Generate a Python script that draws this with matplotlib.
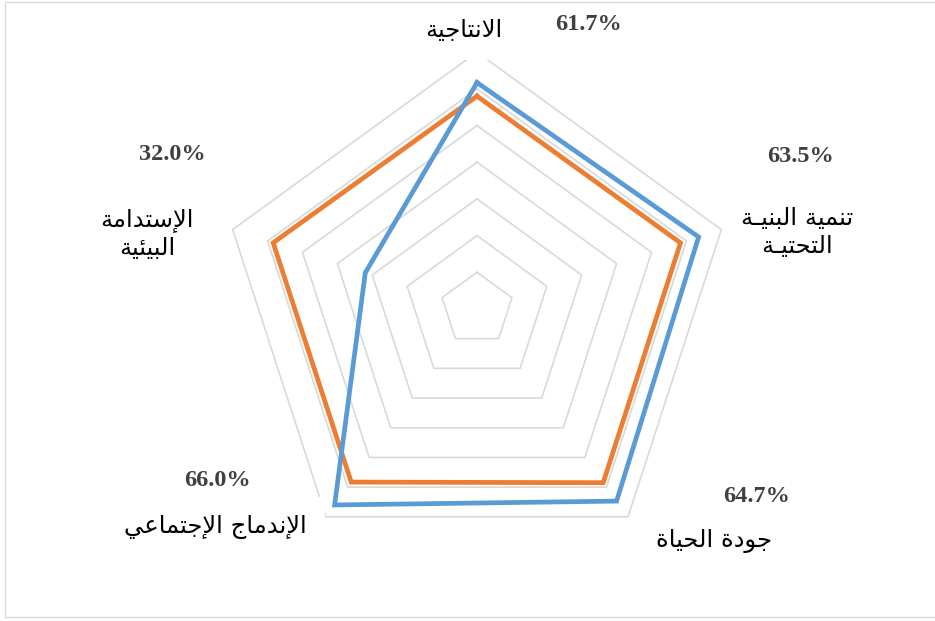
import numpy as np
import matplotlib.pyplot as plt
from matplotlib.patches import Rectangle

# data (clockwise from the top)
categories = ['الانتاجية', 'تنمية البنيـة\nالتحتيـة', 'جودة الحياة',
              'الإندماج الإجتماعي', 'الإستدامة\nالبيئية']
blue_values = [0.617, 0.635, 0.647, 0.660, 0.320]
orange_values = [0.580, 0.583, 0.585, 0.583, 0.584]
ring_levels = [0.1, 0.2, 0.3, 0.4, 0.5, 0.6, 0.7]

# label centres in pixels (x from left, y from top)
cat_pos = [(464, 30), (797, 232), (714, 541), (215, 527), (147, 234)]
pct_pos = [(588, 25), (801, 156), (757, 497), (217, 481), (172, 155)]

# matplotlib does no Arabic shaping, so pick the presentation forms by hand
# (isolated, final, initial, medial)
FORMS = {
    'ا': (0xFE8D, 0xFE8E, None, None), 'إ': (0xFE87, 0xFE88, None, None),
    'ئ': (0xFE89, 0xFE8A, 0xFE8B, 0xFE8C), 'ب': (0xFE8F, 0xFE90, 0xFE91, 0xFE92),
    'ة': (0xFE93, 0xFE94, None, None), 'ت': (0xFE95, 0xFE96, 0xFE97, 0xFE98),
    'ج': (0xFE9D, 0xFE9E, 0xFE9F, 0xFEA0), 'ح': (0xFEA1, 0xFEA2, 0xFEA3, 0xFEA4),
    'د': (0xFEA9, 0xFEAA, None, None), 'س': (0xFEB1, 0xFEB2, 0xFEB3, 0xFEB4),
    'ع': (0xFEC9, 0xFECA, 0xFECB, 0xFECC), 'ل': (0xFEDD, 0xFEDE, 0xFEDF, 0xFEE0),
    'م': (0xFEE1, 0xFEE2, 0xFEE3, 0xFEE4), 'ن': (0xFEE5, 0xFEE6, 0xFEE7, 0xFEE8),
    'و': (0xFEED, 0xFEEE, None, None), 'ي': (0xFEF1, 0xFEF2, 0xFEF3, 0xFEF4),
    'ـ': (0x0640, 0x0640, 0x0640, 0x0640),
}
LAM_ALEF = {'ا': (0xFEFB, 0xFEFC), 'إ': (0xFEF9, 0xFEFA)}


def dual(c):
    return c in FORMS and FORMS[c][2] is not None


def shape_line(s):
    out = []
    i = 0
    while i < len(s):
        c = s[i]
        if c not in FORMS:
            out.append(c)
            i += 1
            continue
        link_prev = i > 0 and dual(s[i - 1])
        if c == 'ل' and i + 1 < len(s) and s[i + 1] in LAM_ALEF:
            iso, fin = LAM_ALEF[s[i + 1]]
            out.append(chr(fin if link_prev else iso))
            i += 2
            continue
        link_next = dual(c) and i + 1 < len(s) and s[i + 1] in FORMS
        iso, fin, ini, med = FORMS[c]
        if link_prev and link_next:
            cp = med
        elif link_prev:
            cp = fin
        elif link_next:
            cp = ini
        else:
            cp = iso
        out.append(chr(cp))
        i += 1
    return ''.join(reversed(out))


def shape(text):
    return '\n'.join(shape_line(l) for l in text.split('\n'))


W, H = 935, 621
cx, cy, scale = 477, 309, 367.0   # centre pixel, pixels per unit

angles = np.deg2rad(90 - 72 * np.arange(len(categories)))


def closed_xy(values):
    v = np.asarray(values)
    x = v * np.cos(angles)
    y = v * np.sin(angles)
    return np.append(x, x[0]), np.append(y, y[0])


fig = plt.figure(figsize=(W / 100, H / 100), dpi=100)
ax = fig.add_axes([0, 0, 1, 1])
ax.set_xlim(-cx / scale, (W - cx) / scale)
ax.set_ylim(-(H - cy) / scale, cy / scale)
ax.axis('off')

for lev in ring_levels:
    x, y = closed_xy([lev] * len(categories))
    ax.plot(x, y, color='#D9D9D9', lw=1.2, zorder=1)

x, y = closed_xy(orange_values)
ax.plot(x, y, color='#ED7D31', lw=3.4, solid_joinstyle='miter', zorder=3)
x, y = closed_xy(blue_values)
ax.plot(x, y, color='#5B9BD5', lw=3.4, solid_joinstyle='miter', zorder=4)

for cat, (px, py) in zip(categories, cat_pos):
    ax.text(px / W, 1 - py / H, shape(cat), transform=ax.transAxes,
            ha='center', va='center', multialignment='center',
            fontsize=17.5, family=['DejaVu Sans'], color='black',
            linespacing=1.2, zorder=5,
            bbox=dict(boxstyle='square,pad=0.75', fc='white', ec='none'))

for v, (px, py) in zip(blue_values, pct_pos):
    ax.text(px / W, 1 - py / H, f'{v * 100:.1f}%', transform=ax.transAxes,
            ha='center', va='center', fontsize=17.5, fontweight='bold',
            family=['Liberation Serif', 'DejaVu Serif'], color='#404040',
            zorder=6)

fig.add_artist(Rectangle((5 / W, 1 - 617 / H), (W + 10) / W, 615 / H,
                         transform=fig.transFigure, fill=False,
                         ec='#D9D9D9', lw=1.0))

fig.savefig('out.png', dpi=100)
